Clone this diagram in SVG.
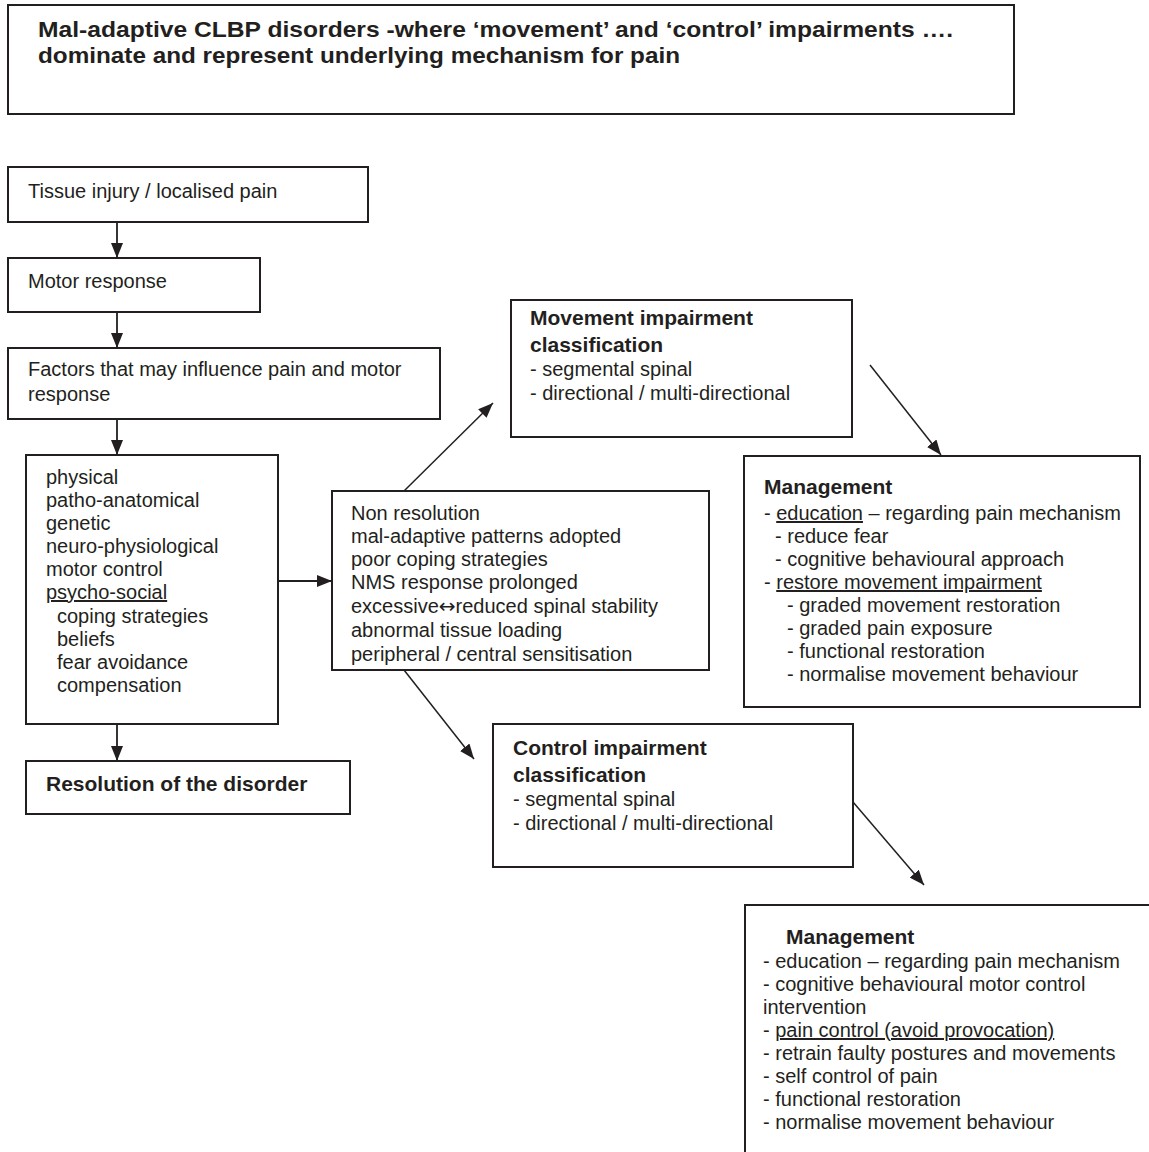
<svg xmlns="http://www.w3.org/2000/svg" width="1149" height="1152" viewBox="0 0 1149 1152">
<defs>
<marker id="ah" viewBox="0 0 15 12" refX="15" refY="6" markerWidth="15" markerHeight="12" markerUnits="userSpaceOnUse" orient="auto">
<path d="M0,0 L15,6 L0,12 Z" fill="#231f20"/>
</marker>
<style>
.box{fill:#fff;stroke:#231f20;stroke-width:2}
.t{font-family:"Liberation Sans",Arial,sans-serif;font-size:20px;fill:#231f20}
.b{font-family:"Liberation Sans",Arial,sans-serif;font-size:21px;font-weight:bold;fill:#231f20}
.ttl{font-family:"Liberation Sans",Arial,sans-serif;font-size:22px;font-weight:bold;fill:#231f20}
.c{stroke:#231f20;stroke-width:1.8;fill:none;marker-end:url(#ah)}
.d{stroke:#231f20;stroke-width:1.5;fill:none;marker-end:url(#ah)}
.u{text-decoration:underline}
.sym{font-family:"DejaVu Sans",sans-serif}
</style>
</defs>
<rect width="1149" height="1152" fill="#fff"/>

<g id="title">
<rect class="box" x="8" y="5" width="1006" height="109"/>
<text class="ttl" x="38" y="37" textLength="915" lengthAdjust="spacingAndGlyphs">Mal-adaptive CLBP disorders -where ‘movement’ and ‘control’ impairments ….</text>
<text class="ttl" x="38" y="63" textLength="642" lengthAdjust="spacingAndGlyphs">dominate and represent underlying mechanism for pain</text>
</g>

<g id="tissue">
<rect class="box" x="8" y="167" width="360" height="55"/>
<text class="t" x="28" y="198">Tissue injury / localised pain</text>
</g>

<g id="motor">
<rect class="box" x="8" y="258" width="252" height="54"/>
<text class="t" x="28" y="288">Motor response</text>
</g>

<g id="factors">
<rect class="box" x="8" y="348" width="432" height="71"/>
<text class="t" x="28" y="376">Factors that may influence pain and motor</text>
<text class="t" x="28" y="401">response</text>
</g>

<g id="factorlist">
<rect class="box" x="26" y="455" width="252" height="269"/>
<text class="t" x="46" y="484">physical</text>
<text class="t" x="46" y="507">patho-anatomical</text>
<text class="t" x="46" y="530">genetic</text>
<text class="t" x="46" y="553">neuro-physiological</text>
<text class="t" x="46" y="576">motor control</text>
<text class="t u" x="46" y="599">psycho-social</text>
<text class="t" x="57" y="623">coping strategies</text>
<text class="t" x="57" y="646">beliefs</text>
<text class="t" x="57" y="669">fear avoidance</text>
<text class="t" x="57" y="692">compensation</text>
</g>

<g id="resolution">
<rect class="box" x="26" y="761" width="324" height="53"/>
<text class="b" x="46" y="791">Resolution of the disorder</text>
</g>

<g id="nonresolution">
<rect class="box" x="332" y="491" width="377" height="179"/>
<text class="t" x="351" y="520">Non resolution</text>
<text class="t" x="351" y="543">mal-adaptive patterns adopted</text>
<text class="t" x="351" y="566">poor coping strategies</text>
<text class="t" x="351" y="589">NMS response prolonged</text>
<text class="t" x="351" y="613">excessive<tspan class="sym">↔</tspan>reduced spinal stability</text>
<text class="t" x="351" y="637">abnormal tissue loading</text>
<text class="t" x="351" y="661">peripheral / central sensitisation</text>
</g>

<g id="movement">
<rect class="box" x="511" y="300" width="341" height="137"/>
<text class="b" x="530" y="325">Movement impairment</text>
<text class="b" x="530" y="352">classification</text>
<text class="t" x="530" y="376">- segmental spinal</text>
<text class="t" x="530" y="400">- directional / multi-directional</text>
</g>

<g id="management1">
<rect class="box" x="744" y="456" width="396" height="251"/>
<text class="b" x="764" y="494">Management</text>
<text class="t" x="764" y="520">- <tspan class="u">education</tspan> – regarding pain mechanism</text>
<text class="t" x="775" y="543">- reduce fear</text>
<text class="t" x="775" y="566">- cognitive behavioural approach</text>
<text class="t" x="764" y="589">- <tspan class="u">restore movement impairment</tspan></text>
<text class="t" x="787" y="612">- graded movement restoration</text>
<text class="t" x="787" y="635">- graded pain exposure</text>
<text class="t" x="787" y="658">- functional restoration</text>
<text class="t" x="787" y="681">- normalise movement behaviour</text>
</g>

<g id="control">
<rect class="box" x="493" y="724" width="360" height="143"/>
<text class="b" x="513" y="755">Control impairment</text>
<text class="b" x="513" y="782">classification</text>
<text class="t" x="513" y="806">- segmental spinal</text>
<text class="t" x="513" y="830">- directional / multi-directional</text>
</g>

<g id="management2">
<rect class="box" x="745" y="905" width="430" height="300"/>
<text class="b" x="786" y="944">Management</text>
<text class="t" x="763" y="968">- education – regarding pain mechanism</text>
<text class="t" x="763" y="991">- cognitive behavioural motor control</text>
<text class="t" x="763" y="1014">intervention</text>
<text class="t" x="763" y="1037">- <tspan class="u">pain control (avoid provocation)</tspan></text>
<text class="t" x="763" y="1060">- retrain faulty postures and movements</text>
<text class="t" x="763" y="1083">- self control of pain</text>
<text class="t" x="763" y="1106">- functional restoration</text>
<text class="t" x="763" y="1129">- normalise movement behaviour</text>
</g>

<g id="connectors">
<line class="c" x1="117" y1="222" x2="117" y2="258"/>
<line class="c" x1="117" y1="312" x2="117" y2="348"/>
<line class="c" x1="117" y1="419" x2="117" y2="455"/>
<line class="c" x1="117" y1="724" x2="117" y2="761"/>
<line class="c" x1="278" y1="581" x2="332" y2="581"/>
<line class="d" x1="404" y1="491" x2="493" y2="403"/>
<line class="d" x1="870" y1="365" x2="941" y2="455"/>
<line class="d" x1="404" y1="670" x2="474" y2="759"/>
<line class="d" x1="853" y1="802" x2="924" y2="885"/>
</g>
</svg>
